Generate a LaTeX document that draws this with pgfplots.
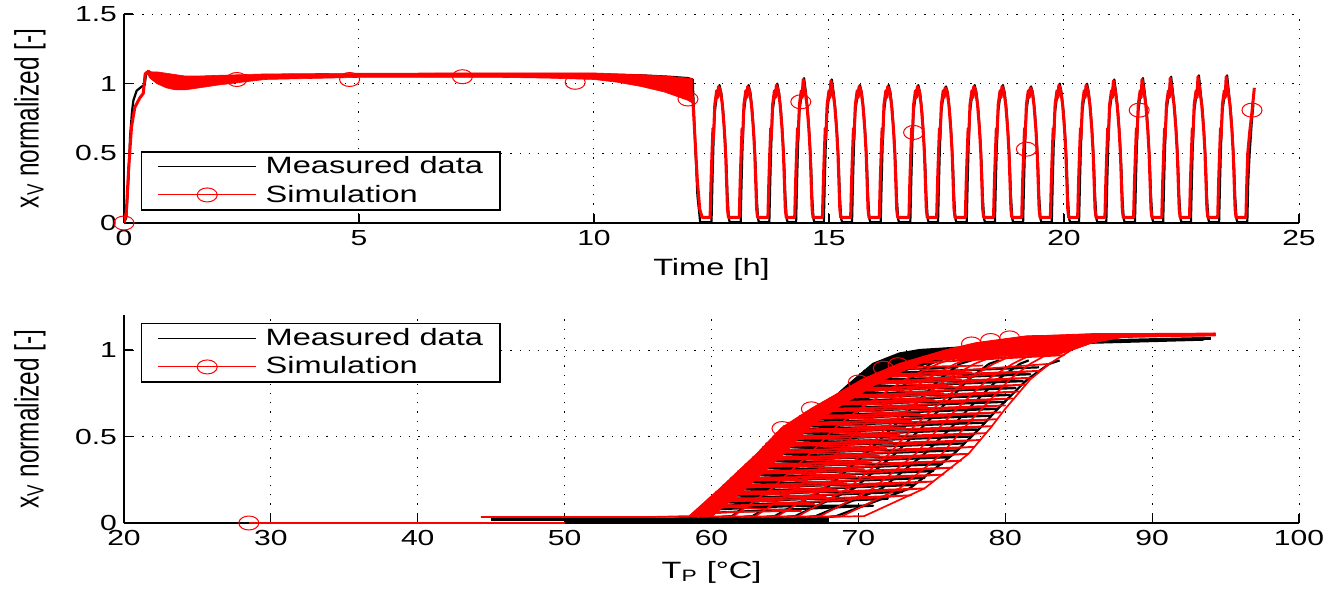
\documentclass[border=0pt]{standalone}
\usepackage{fontspec}
\setmainfont{Liberation Sans}[FakeStretch=1.38]
\newfontfamily\ylabfont{Liberation Sans}
\usepackage{graphicx}
\usepackage{pgfplots}
\pgfplotsset{compat=1.18}

\pgfplotsset{
  matlab/.style={
    scale only axis,
    axis x line*=bottom, axis y line*=left,
    tick align=inside, major tick length=4.5pt,
    axis line style={line width=0.6pt},
    tick style={black, line width=0.6pt},
    grid=major,
    major grid style={black, line width=0.5pt, dash pattern=on 0.6pt off 4pt},
    tick label style={font=\fontsize{10.9}{12}\selectfont},
    /pgf/number format/assume math mode=true,
    label style={font=\fontsize{11.8}{14}\selectfont},
    ylabel style={at={(axis description cs:-0.08,0.5)}, anchor=center,
      font=\fontsize{12.2}{14}\selectfont},
    legend cell align=left,
    legend style={draw=black, line width=0.7pt, fill=white,
      font=\fontsize{11.8}{14}\selectfont,
      inner xsep=8pt, inner ysep=2pt, row sep=3pt,
      /tikz/column sep=4pt, nodes={inner sep=0.5pt}},
    legend image code/.code={\draw[mark repeat=2,mark phase=2,#1]
      plot coordinates {(0pt,0pt) (24.5pt,0pt) (49pt,0pt)};},
  },
  simmark/.style={red, only marks, mark=o, mark size=3.5pt,
    mark options={xscale=1.43, line width=0.5pt}},
  meas/.style={black, line width=1.1pt, line join=round, forget plot},
  sim/.style={red, line width=0.85pt, line join=round, forget plot},
}

\begin{document}
\begin{tikzpicture}
\path[use as bounding box] (-62pt,-184pt) rectangle (608.5pt,111.5pt);

% ---------------- top: valve position over time ----------------
\begin{axis}[matlab,
  at={(0pt,0pt)}, anchor=south west,
  width=587.5pt, height=104.5pt,
  xmin=0, xmax=25, ymin=0, ymax=1.5,
  xtick={0,5,10,15,20,25}, ytick={0,0.5,1,1.5},
  xlabel={Time [h]},
  xlabel style={at={(axis description cs:0.5,-0.22)}, anchor=center},
  ylabel={\scalebox{1}[1.38]{\ylabfont x\textsubscript{V} normalized [-]}},
  legend style={at={(axis description cs:0.0145,0.344)}, anchor=north west},
]
\addlegendimage{black, line width=0.5pt}
\addlegendentry{Measured data}
\addlegendimage{red, line width=0.5pt, mark=o, mark size=3.5pt, mark options={xscale=1.43}}
\addlegendentry{Simulation}

% measured
\addplot[black, line width=1.1pt, line join=round, forget plot] coordinates {
(0,0)(0.05,0.04)(0.1,0.35)(0.13,0.62)(0.17,0.8)(0.2,0.88)(0.27,0.95)(0.38,0.98)(0.44,0.99)
(0.47,1.07)(0.55,1.08)(0.7,1.07)(1.0,1.05)(1.5,1.045)(2,1.05)(3,1.055)(5,1.06)(8,1.065)
(10,1.065)(11,1.06)(11.6,1.05)(12.0,1.04)(12.1,1.03)(12.15,0.6)(12.2,0.2)(12.26,0.005)
(12.50,.005)(12.52,.3)(12.54,.55)(12.57,.8)(12.62,.93)(12.67,.99)(12.71,.93)(12.75,.8)(12.79,.6)(12.82,.4)(12.84,.2)(12.87,.03)(12.89,.005)
(13.12,.005)(13.14,.3)(13.16,.55)(13.19,.8)(13.24,.93)(13.29,.99)(13.33,.93)(13.37,.8)(13.41,.6)(13.44,.4)(13.46,.2)(13.49,.03)(13.51,.005)
(13.73,.005)(13.75,.3)(13.77,.55)(13.80,.8)(13.85,.93)(13.90,1.0)(13.94,.93)(13.98,.8)(14.02,.6)(14.05,.4)(14.07,.2)(14.10,.03)(14.12,.005)
(14.30,.005)(14.32,.3)(14.34,.55)(14.37,.8)(14.42,.93)(14.47,1.04)(14.51,.93)(14.55,.8)(14.59,.6)(14.62,.4)(14.64,.2)(14.67,.03)(14.69,.005)
(14.89,.005)(14.91,.3)(14.93,.55)(14.96,.8)(15.01,.93)(15.06,1.03)(15.10,.93)(15.14,.8)(15.18,.6)(15.21,.4)(15.23,.2)(15.26,.03)(15.28,.005)
(15.49,.005)(15.51,.3)(15.53,.55)(15.56,.8)(15.61,.93)(15.66,.99)(15.70,.93)(15.74,.8)(15.78,.6)(15.81,.4)(15.83,.2)(15.86,.03)(15.88,.005)
(16.10,.005)(16.12,.3)(16.14,.55)(16.17,.8)(16.22,.93)(16.27,.99)(16.31,.93)(16.35,.8)(16.39,.6)(16.42,.4)(16.44,.2)(16.47,.03)(16.49,.005)
(16.73,.005)(16.75,.3)(16.77,.55)(16.80,.8)(16.85,.93)(16.90,.99)(16.94,.93)(16.98,.8)(17.02,.6)(17.05,.4)(17.07,.2)(17.10,.03)(17.12,.005)
(17.32,.005)(17.34,.3)(17.36,.55)(17.39,.8)(17.44,.93)(17.49,.98)(17.53,.93)(17.57,.8)(17.61,.6)(17.64,.4)(17.66,.2)(17.69,.03)(17.71,.005)
(17.93,.005)(17.95,.3)(17.97,.55)(18.00,.8)(18.05,.93)(18.10,.99)(18.14,.93)(18.18,.8)(18.22,.6)(18.25,.4)(18.27,.2)(18.30,.03)(18.32,.005)
(18.53,.005)(18.55,.3)(18.57,.55)(18.60,.8)(18.65,.93)(18.70,.99)(18.74,.93)(18.78,.8)(18.82,.6)(18.85,.4)(18.87,.2)(18.90,.03)(18.92,.005)
(19.13,.005)(19.15,.3)(19.17,.55)(19.20,.8)(19.25,.93)(19.30,.98)(19.34,.93)(19.38,.8)(19.42,.6)(19.45,.4)(19.47,.2)(19.50,.03)(19.52,.005)
(19.74,.005)(19.76,.3)(19.78,.55)(19.81,.8)(19.86,.93)(19.91,1.0)(19.95,.93)(19.99,.8)(20.03,.6)(20.06,.4)(20.08,.2)(20.11,.03)(20.13,.005)
(20.32,.005)(20.34,.3)(20.36,.55)(20.39,.8)(20.44,.93)(20.49,1.0)(20.53,.93)(20.57,.8)(20.61,.6)(20.64,.4)(20.66,.2)(20.69,.03)(20.71,.005)
(20.90,.005)(20.92,.3)(20.94,.55)(20.97,.8)(21.02,.93)(21.07,1.03)(21.11,.93)(21.15,.8)(21.19,.6)(21.22,.4)(21.24,.2)(21.27,.03)(21.29,.005)
(21.51,.005)(21.53,.3)(21.55,.55)(21.58,.8)(21.63,.93)(21.68,1.04)(21.72,.93)(21.76,.8)(21.80,.6)(21.83,.4)(21.85,.2)(21.88,.03)(21.90,.005)
(22.11,.005)(22.13,.3)(22.15,.55)(22.18,.8)(22.23,.93)(22.28,1.05)(22.32,.93)(22.36,.8)(22.40,.6)(22.43,.4)(22.45,.2)(22.48,.03)(22.50,.005)
(22.70,.005)(22.72,.3)(22.74,.55)(22.77,.8)(22.82,.93)(22.87,1.06)(22.91,.93)(22.95,.8)(22.99,.6)(23.02,.4)(23.04,.2)(23.07,.03)(23.09,.005)
(23.30,.005)(23.32,.3)(23.34,.55)(23.37,.8)(23.42,.93)(23.47,1.06)(23.51,.93)(23.55,.8)(23.59,.6)(23.62,.4)(23.64,.2)(23.67,.03)(23.69,.005)
(23.90,.005)(23.92,.3)(23.95,.5)(24.0,.75)(24.03,.85)
};

% simulation: oscillation band in the first half
\addplot[red, fill=red, line width=0.3pt, forget plot] coordinates {
(0.5,1.085)(0.7,1.085)(1.0,1.07)(1.3,1.055)(1.6,1.055)(2.0,1.06)(2.5,1.065)(3,1.07)(5,1.075)
(8,1.078)(10,1.077)(11,1.065)(11.5,1.055)(12,1.04)(12.1,1.035)
(12.1,0.86)(12,0.88)(11.5,0.94)(11,0.98)(10.5,1.01)(10,1.03)(9,1.04)(8,1.045)(5,1.045)(3,1.03)
(2.5,1.01)(2,0.99)(1.6,0.97)(1.3,0.955)(1.1,0.955)(0.9,0.97)(0.7,1.0)(0.55,1.04)(0.5,1.07)
} -- cycle;

% simulation
\addplot[red, line width=1.5pt, line join=round, forget plot] coordinates {
(0,0)(0.05,0.08)(0.1,0.4)(0.16,0.69)(0.23,0.83)(0.34,0.9)(0.41,0.93)(0.45,1.07)(0.52,1.09)
(0.6,1.06)(1,1.02)(1.3,1.005)(1.6,1.01)(2,1.03)(3,1.05)(5,1.06)(10,1.055)(11,1.03)(11.6,1.0)
(12,0.96)(12.1,0.9)(12.15,0.6)(12.2,0.3)(12.25,0.1)(12.3,0.04)
(12.47,.04)(12.49,.3)(12.51,.5)(12.53,.68)(12.54,.6)(12.57,.85)(12.61,.95)(12.63,.9)(12.65,.98)(12.69,.95)(12.73,.85)(12.77,.68)(12.80,.5)(12.82,.3)(12.84,.1)(12.86,.04)
(13.09,.04)(13.11,.3)(13.13,.5)(13.15,.68)(13.16,.6)(13.19,.85)(13.23,.95)(13.25,.9)(13.27,.98)(13.31,.95)(13.35,.85)(13.39,.68)(13.42,.5)(13.44,.3)(13.46,.1)(13.48,.04)
(13.70,.04)(13.72,.3)(13.74,.5)(13.76,.68)(13.77,.6)(13.80,.85)(13.84,.95)(13.86,.9)(13.88,.99)(13.92,.95)(13.96,.85)(14.00,.68)(14.03,.5)(14.05,.3)(14.07,.1)(14.09,.04)
(14.27,.04)(14.29,.3)(14.31,.5)(14.33,.68)(14.34,.6)(14.37,.85)(14.41,.95)(14.43,.9)(14.45,1.03)(14.49,.95)(14.53,.85)(14.57,.68)(14.60,.5)(14.62,.3)(14.64,.1)(14.66,.04)
(14.86,.04)(14.88,.3)(14.90,.5)(14.92,.68)(14.93,.6)(14.96,.85)(15.00,.95)(15.02,.9)(15.04,1.02)(15.08,.95)(15.12,.85)(15.16,.68)(15.19,.5)(15.21,.3)(15.23,.1)(15.25,.04)
(15.46,.04)(15.48,.3)(15.50,.5)(15.52,.68)(15.53,.6)(15.56,.85)(15.60,.95)(15.62,.9)(15.64,.98)(15.68,.95)(15.72,.85)(15.76,.68)(15.79,.5)(15.81,.3)(15.83,.1)(15.85,.04)
(16.07,.04)(16.09,.3)(16.11,.5)(16.13,.68)(16.14,.6)(16.17,.85)(16.21,.95)(16.23,.9)(16.25,.98)(16.29,.95)(16.33,.85)(16.37,.68)(16.40,.5)(16.42,.3)(16.44,.1)(16.46,.04)
(16.70,.04)(16.72,.3)(16.74,.5)(16.76,.68)(16.77,.6)(16.80,.85)(16.84,.95)(16.86,.9)(16.88,.98)(16.92,.95)(16.96,.85)(17.00,.68)(17.03,.5)(17.05,.3)(17.07,.1)(17.09,.04)
(17.29,.04)(17.31,.3)(17.33,.5)(17.35,.68)(17.36,.6)(17.39,.85)(17.43,.95)(17.45,.9)(17.47,.97)(17.51,.95)(17.55,.85)(17.59,.68)(17.62,.5)(17.64,.3)(17.66,.1)(17.68,.04)
(17.90,.04)(17.92,.3)(17.94,.5)(17.96,.68)(17.97,.6)(18.00,.85)(18.04,.95)(18.06,.9)(18.08,.98)(18.12,.95)(18.16,.85)(18.20,.68)(18.23,.5)(18.25,.3)(18.27,.1)(18.29,.04)
(18.50,.04)(18.52,.3)(18.54,.5)(18.56,.68)(18.57,.6)(18.60,.85)(18.64,.95)(18.66,.9)(18.68,.98)(18.72,.95)(18.76,.85)(18.80,.68)(18.83,.5)(18.85,.3)(18.87,.1)(18.89,.04)
(19.10,.04)(19.12,.3)(19.14,.5)(19.16,.68)(19.17,.6)(19.20,.85)(19.24,.95)(19.26,.9)(19.28,.97)(19.32,.95)(19.36,.85)(19.40,.68)(19.43,.5)(19.45,.3)(19.47,.1)(19.49,.04)
(19.71,.04)(19.73,.3)(19.75,.5)(19.77,.68)(19.78,.6)(19.81,.85)(19.85,.95)(19.87,.9)(19.89,.99)(19.93,.95)(19.97,.85)(20.01,.68)(20.04,.5)(20.06,.3)(20.08,.1)(20.10,.04)
(20.29,.04)(20.31,.3)(20.33,.5)(20.35,.68)(20.36,.6)(20.39,.85)(20.43,.95)(20.45,.9)(20.47,.99)(20.51,.95)(20.55,.85)(20.59,.68)(20.62,.5)(20.64,.3)(20.66,.1)(20.68,.04)
(20.87,.04)(20.89,.3)(20.91,.5)(20.93,.68)(20.94,.6)(20.97,.85)(21.01,.95)(21.03,.9)(21.05,1.02)(21.09,.95)(21.13,.85)(21.17,.68)(21.20,.5)(21.22,.3)(21.24,.1)(21.26,.04)
(21.48,.04)(21.50,.3)(21.52,.5)(21.54,.68)(21.55,.6)(21.58,.85)(21.62,.95)(21.64,.9)(21.66,1.03)(21.70,.95)(21.74,.85)(21.78,.68)(21.81,.5)(21.83,.3)(21.85,.1)(21.87,.04)
(22.08,.04)(22.10,.3)(22.12,.5)(22.14,.68)(22.15,.6)(22.18,.85)(22.22,.95)(22.24,.9)(22.26,1.04)(22.30,.95)(22.34,.85)(22.38,.68)(22.41,.5)(22.43,.3)(22.45,.1)(22.47,.04)
(22.67,.04)(22.69,.3)(22.71,.5)(22.73,.68)(22.74,.6)(22.77,.85)(22.81,.95)(22.83,.9)(22.85,1.05)(22.89,.95)(22.93,.85)(22.97,.68)(23.00,.5)(23.02,.3)(23.04,.1)(23.06,.04)
(23.27,.04)(23.29,.3)(23.31,.5)(23.33,.68)(23.34,.6)(23.37,.85)(23.41,.95)(23.43,.9)(23.45,1.05)(23.49,.95)(23.53,.85)(23.57,.68)(23.60,.5)(23.62,.3)(23.64,.1)(23.66,.04)
(23.87,.04)(23.89,.3)(23.91,.5)(23.95,.65)(24.0,.8)(24.05,.97)
};
\addplot[simmark, forget plot] coordinates {
(0,0)(2.4,1.03)(4.8,1.03)(7.2,1.05)(9.6,1.01)(12,0.89)(14.4,0.87)(16.8,0.65)(19.2,0.53)(21.6,0.81)(24,0.81)
};
\end{axis}

% ---------------- bottom: valve position over temperature ----------------
\begin{axis}[matlab,
  at={(0pt,-150pt)}, anchor=south west,
  width=587.5pt, height=103.8pt,
  xmin=20, xmax=100, ymin=0, ymax=1.2,
  xtick={20,30,40,50,60,70,80,90,100}, ytick={0,0.5,1},
  xlabel={T\textsubscript{P} [°C]},
  xlabel style={at={(axis description cs:0.5,-0.236)}, anchor=center},
  ylabel={\scalebox{1}[1.38]{\ylabfont x\textsubscript{V} normalized [-]}},
  legend style={at={(axis description cs:0.0145,0.963)}, anchor=north west},
]
\addlegendimage{black, line width=0.5pt}
\addlegendentry{Measured data}
\addlegendimage{red, line width=0.5pt, mark=o, mark size=3.5pt, mark options={xscale=1.43}}
\addlegendentry{Simulation}

% measured
\addplot[black, line width=1.6pt, forget plot] coordinates {(45,0.022)(68,0.022)};
\addplot[black, line width=0.8pt, forget plot] coordinates {(50,0.005)(68,0.005)};
\addplot[black, fill=black, forget plot] coordinates {
(66.5,.6)(67.1,.63)(69.2,.79)(71,.92)(72.8,.98)(74.2,1.0)(78,1.02)(81,1.03)(79,1.0)(76,.95)(73.5,.89)(71,.8)(68.5,.68)
} -- cycle;
\addplot[meas] coordinates {
(45.5,.025)(57.5,.025)(60.0,.04)(62.0,.2)(64.5,.4)(66.3,.55)(67.1,.63)(69.2,.79)(71,.92)(72.8,.98)(74.2,1.0)(78,1.02)(84,1.05)(94,1.07)};
\addplot[meas] coordinates {
(46,.025)(58.9,.025)(61.4,.04)(63.9,.2)(66.5,.4)(68.3,.55)(69.8,.67)(71.5,.83)(72.8,.92)(74.5,.975)(78,1.01)(84,1.045)(94,1.065)};
\addplot[meas] coordinates {
(47,.02)(60.3,.02)(62.8,.04)(65.8,.2)(68.5,.4)(70.3,.55)(71.7,.67)(73.5,.83)(74.9,.92)(76.5,.97)(80,1.0)(85,1.04)(93.5,1.06)};
\addplot[meas] coordinates {
(48,.02)(61.8,.02)(64.3,.04)(67.8,.2)(70.5,.4)(72.3,.55)(73.7,.67)(75.5,.83)(76.9,.92)(78.5,.96)(81,0.98)};
\addplot[meas] coordinates {
(49,.02)(63.2,.02)(65.7,.04)(69.7,.2)(72.5,.4)(74.3,.55)(75.7,.67)(77.5,.83)(78.9,.92)(79.6,.94)};
\addplot[meas] coordinates {
(50,.015)(64.6,.015)(67.1,.04)(71.6,.2)(74.5,.4)(76.3,.55)(77.6,.67)(79.5,.83)(81.0,.92)(81.6,.94)};
\addplot[meas] coordinates {
(51,.015)(66,.015)(68.5,.04)(73.5,.2)(76.5,.4)(78.3,.55)(79.6,.67)(81.5,.83)(83.0,.92)(83.7,.94)};
\addplot[meas] coordinates {
(60.3,.06)(71.0,.1)(60.8,.1)(72.0,.14)(61.3,.14)(73.0,.18)(61.8,.18)(73.8,.22)(62.3,.22)(74.5,.26)
(62.8,.26)(75.1,.3)(63.3,.3)(75.7,.34)(63.8,.34)(76.2,.38)(64.3,.38)(76.7,.42)(64.7,.42)(77.2,.46)
(65.2,.46)(77.7,.5)(65.7,.5)(78.1,.54)(66.2,.54)(78.6,.58)(66.7,.58)(79.0,.62)(67.1,.62)(79.5,.66)
(67.6,.66)(79.9,.7)(68.1,.7)(80.3,.74)(68.6,.74)(80.7,.78)(69.1,.78)(81.2,.82)(69.6,.82)(81.7,.86)
(70.1,.86)(82.3,.9)};
\addplot[meas] coordinates {
(60.6,.08)(65.9,.1)(61.0,.12)(66.8,.14)(61.5,.16)(67.6,.18)(62.0,.2)(68.3,.22)(62.5,.24)(68.9,.26)
(63.0,.28)(69.5,.3)(63.5,.32)(70.0,.34)(64.0,.36)(70.5,.38)(64.5,.4)(71.1,.42)(65.0,.44)(71.6,.46)
(65.5,.48)(72.1,.5)(65.9,.52)(72.5,.54)(66.4,.56)(73.0,.58)(66.9,.6)(73.4,.62)(67.4,.64)(73.9,.66)
(67.9,.68)(74.4,.7)(68.3,.72)(74.8,.74)(68.8,.76)(75.2,.78)(69.3,.8)(75.7,.82)(69.9,.84)(76.3,.86)
(70.4,.88)(76.8,.9)};

% simulation
\addplot[sim, line width=0.8pt] coordinates {(28.5,0)(50,0)};
\addplot[red, fill=red, forget plot] coordinates {
(74.5,.96)(76,1.0)(78,1.04)(81.5,1.08)(86,1.095)(94.3,1.097)(94.3,1.083)(88,1.072)(86,1.045)(84.5,1.0)(83.5,.97)(80,.965)(77,.955)
} -- cycle;
\addplot[red, fill=red, forget plot] coordinates {
(58.5,.04)(60.6,.2)(63.1,.4)(64.8,.55)(66.8,.66)(70.3,.83)(72.8,.92)(76.0,1.0)
(77.1,1.0)(74.1,.92)(71.7,.83)(68.4,.66)(66.6,.55)(64.9,.4)(62.3,.2)(60.0,.04)
} -- cycle;
\addplot[sim] coordinates {
(44.3,.035)(56,.035)(58.5,.04)(60.6,.2)(63.1,.4)(64.8,.55)(66.8,.66)(70.3,.83)(72.8,.92)(76.0,1.0)(78.0,1.04)(81.5,1.08)(94.3,1.095)};
\addplot[sim] coordinates {
(57.5,.035)(60.0,.04)(62.3,.2)(64.9,.4)(66.6,.55)(68.4,.66)(71.7,.83)(74.1,.92)(77.1,1.0)(79.0,1.04)(82.3,1.08)(94.3,1.095)};
\addplot[sim] coordinates {
(59,.035)(61.5,.04)(64.1,.2)(66.7,.4)(68.4,.55)(70.1,.66)(73.2,.83)(75.4,.92)(78.1,1.0)(80.0,1.04)(83.1,1.08)(94.3,1.09)};
\addplot[sim] coordinates {
(60.5,.035)(63.0,.04)(65.8,.2)(68.5,.4)(70.1,.55)(71.8,.66)(74.6,.83)(76.6,.92)(79.2,1.0)(80.9,1.04)(83.9,1.08)(94.3,1.09)};
\addplot[sim] coordinates {
(62,.035)(64.5,.04)(67.6,.2)(70.3,.4)(71.9,.55)(73.4,.66)(76.0,.83)(77.9,.92)(80.3,1.0)(81.9,1.04)(84.8,1.08)(94.3,1.09)};
\addplot[sim] coordinates {
(63.4,.035)(65.9,.04)(69.3,.2)(72.1,.4)(73.7,.55)(75.1,.66)(77.4,.83)(79.2,.92)(81.3,1.0)(82.9,1.04)(85.6,1.08)(94.3,1.09)};
\addplot[sim] coordinates {
(64.9,.035)(67.4,.04)(71.0,.2)(73.9,.4)(75.5,.55)(76.7,.66)(78.8,.83)(80.5,.92)(82.4,1.0)(83.9,1.04)(86.4,1.08)(94.3,1.09)};
\addplot[sim] coordinates {
(66.4,.035)(68.9,.04)(72.8,.2)(75.7,.4)(77.2,.55)(78.4,.66)(80.3,.83)(81.7,.92)(83.4,1.0)(84.8,1.04)(87.2,1.08)(94.3,1.085)};
\addplot[sim] coordinates {
(67.9,.035)(70.4,.04)(74.5,.2)(77.5,.4)(79.0,.55)(80.0,.66)(81.7,.83)(83.0,.92)(84.5,1.0)(85.8,1.04)(88.0,1.08)(94.3,1.085)};
\addplot[sim] coordinates {
(59.0,.08)(73.6,.16)(59.6,.12)(74.5,.2)(60.1,.16)(75.1,.24)(60.6,.2)(75.8,.28)(61.1,.24)(76.4,.32)
(61.6,.28)(77.0,.36)(62.1,.32)(77.5,.4)(62.6,.36)(77.9,.44)(63.1,.4)(78.3,.48)(63.5,.44)(78.7,.52)
(64.0,.48)(79.1,.56)(64.4,.52)(79.4,.6)(64.9,.56)(79.7,.64)(65.7,.6)(80.0,.68)(66.4,.64)(80.5,.72)
(67.2,.68)(80.9,.76)(68.0,.72)(81.4,.8)(68.9,.76)(81.8,.84)(69.7,.8)(82.4,.88)(70.5,.84)(83.0,.92)};
\addplot[sim] coordinates {
(58.8,.06)(66.1,.07)(59.3,.1)(67.0,.11)(59.8,.14)(67.8,.15)(60.3,.18)(68.6,.19)(60.8,.22)(69.2,.23)
(61.3,.26)(69.8,.27)(61.8,.3)(70.4,.31)(62.3,.34)(70.9,.35)(62.8,.38)(71.4,.39)(63.3,.42)(71.9,.43)
(63.7,.46)(72.3,.47)(64.2,.5)(72.8,.51)(64.7,.54)(73.2,.55)(65.2,.58)(73.6,.59)(66.0,.62)(74.2,.63)
(66.8,.66)(74.7,.67)(67.6,.7)(75.2,.71)(68.5,.74)(75.8,.75)(69.3,.78)(76.4,.79)(70.1,.82)(77.0,.83)
(71.1,.86)(77.7,.87)(72.2,.9)(78.5,.91)};
\addplot[sim] coordinates {
(72.8,.92)(84,.97)(73.6,.94)(84.5,1.0)(74.5,.96)(85,1.02)(75.3,.98)(85.5,1.03)(76,1.0)(86,1.05)};
\addplot[simmark, forget plot] coordinates {
(28.5,0)(64.8,0.546)(66.8,0.66)(70.0,0.815)(71.7,0.895)(72.7,0.915)(77.7,1.035)(79.0,1.055)(80.3,1.07)
};
\end{axis}
\end{tikzpicture}
\end{document}
